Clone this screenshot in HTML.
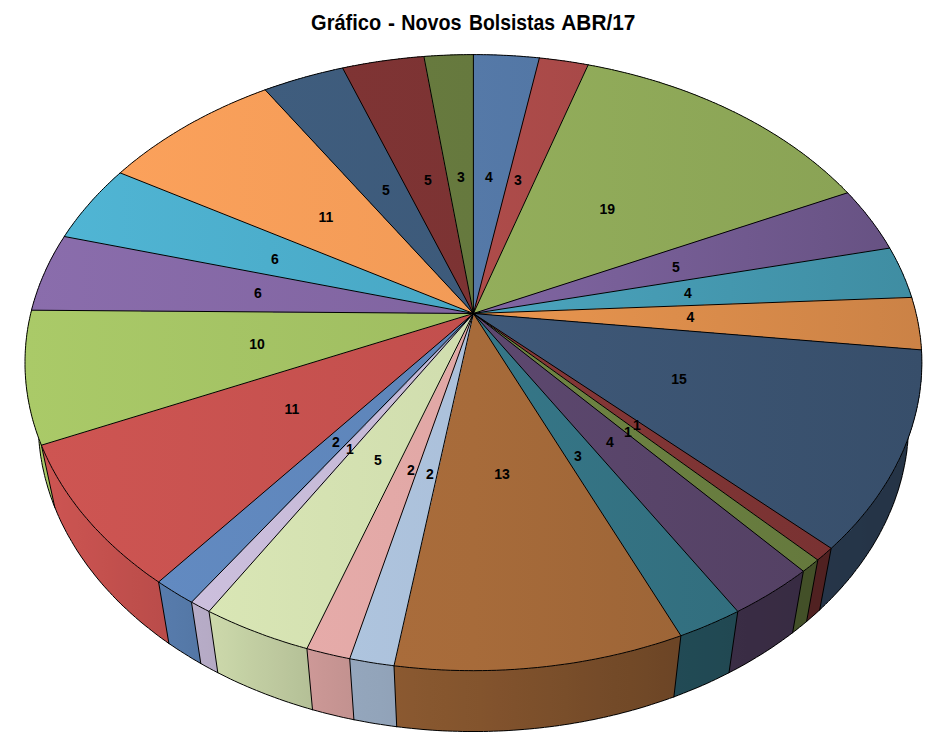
<!DOCTYPE html>
<html><head><meta charset="utf-8"><title>Gráfico</title>
<style>
html,body{margin:0;padding:0;background:#fff;}
body{width:942px;height:742px;overflow:hidden;font-family:"Liberation Sans",sans-serif;}
svg{display:block;}
.s{stroke:#000;stroke-width:1;stroke-linejoin:round;}
.o{shape-rendering:geometricPrecision;stroke:#000;stroke-width:1;fill:none;stroke-linejoin:round;stroke-linecap:round;}
.l{font-family:"Liberation Sans",sans-serif;font-weight:bold;font-size:14px;fill:#000;text-anchor:middle;}
.t{font-family:"Liberation Sans",sans-serif;font-weight:bold;font-size:21.5px;fill:#000;}
</style></head><body>
<svg width="942" height="742" viewBox="0 0 942 742" shape-rendering="crispEdges">
<rect width="942" height="742" fill="#fff"/>
<defs>
<linearGradient id="g0" gradientUnits="userSpaceOnUse" x1="473.4" y1="0" x2="539.4" y2="0"><stop offset="0.0000" stop-color="#5579A8"/><stop offset="1.0000" stop-color="#5377A5"/></linearGradient>
<linearGradient id="g1" gradientUnits="userSpaceOnUse" x1="473.4" y1="0" x2="588.2" y2="0"><stop offset="0.0000" stop-color="#AE4C4A"/><stop offset="1.0000" stop-color="#A84948"/></linearGradient>
<linearGradient id="g2" gradientUnits="userSpaceOnUse" x1="473.4" y1="0" x2="847.5" y2="0"><stop offset="0" stop-color="#93AE5B"/><stop offset="1" stop-color="#8AA355"/></linearGradient>
<linearGradient id="g3" gradientUnits="userSpaceOnUse" x1="473.4" y1="0" x2="889.7" y2="0"><stop offset="0" stop-color="#8166A3"/><stop offset="1" stop-color="#675283"/></linearGradient>
<linearGradient id="g4" gradientUnits="userSpaceOnUse" x1="473.4" y1="0" x2="911.7" y2="0"><stop offset="0" stop-color="#4BA5BF"/><stop offset="1" stop-color="#3F8DA2"/></linearGradient>
<linearGradient id="g5" gradientUnits="userSpaceOnUse" x1="473.4" y1="0" x2="921.5" y2="0"><stop offset="0" stop-color="#EA964F"/><stop offset="1" stop-color="#CB8246"/></linearGradient>
<linearGradient id="g6" gradientUnits="userSpaceOnUse" x1="473.4" y1="0" x2="921.9" y2="0"><stop offset="0" stop-color="#3F5979"/><stop offset="1" stop-color="#374E6A"/></linearGradient>
<linearGradient id="g7" gradientUnits="userSpaceOnUse" x1="473.4" y1="0" x2="831.2" y2="0"><stop offset="0.0000" stop-color="#873838"/><stop offset="1.0000" stop-color="#793232"/></linearGradient>
<linearGradient id="g8" gradientUnits="userSpaceOnUse" x1="473.4" y1="0" x2="817.8" y2="0"><stop offset="0.0000" stop-color="#708644"/><stop offset="1.0000" stop-color="#65793D"/></linearGradient>
<linearGradient id="g9" gradientUnits="userSpaceOnUse" x1="473.4" y1="0" x2="803.4" y2="0"><stop offset="0.0000" stop-color="#5D486F"/><stop offset="1.0000" stop-color="#544164"/></linearGradient>
<linearGradient id="g10" gradientUnits="userSpaceOnUse" x1="473.4" y1="0" x2="737.8" y2="0"><stop offset="0.0000" stop-color="#367788"/><stop offset="1.0000" stop-color="#326E7E"/></linearGradient>
<linearGradient id="g11" gradientUnits="userSpaceOnUse" x1="394.0" y1="0" x2="680.9" y2="0"><stop offset="0.0000" stop-color="#A96C3B"/><stop offset="0.2767" stop-color="#A76B3A"/><stop offset="1.0000" stop-color="#9D6537"/></linearGradient>
<linearGradient id="g12" gradientUnits="userSpaceOnUse" x1="349.7" y1="0" x2="473.4" y2="0"><stop offset="0.0000" stop-color="#AEC4DE"/><stop offset="1.0000" stop-color="#ABC0DA"/></linearGradient>
<linearGradient id="g13" gradientUnits="userSpaceOnUse" x1="306.9" y1="0" x2="473.4" y2="0"><stop offset="0.0000" stop-color="#E6ABA9"/><stop offset="1.0000" stop-color="#E0A7A5"/></linearGradient>
<linearGradient id="g14" gradientUnits="userSpaceOnUse" x1="209.0" y1="0" x2="473.4" y2="0"><stop offset="0.0000" stop-color="#D9E6B5"/><stop offset="1.0000" stop-color="#D0DDAE"/></linearGradient>
<linearGradient id="g15" gradientUnits="userSpaceOnUse" x1="191.5" y1="0" x2="473.4" y2="0"><stop offset="0.0000" stop-color="#CCBFDD"/><stop offset="1.0000" stop-color="#C3B7D4"/></linearGradient>
<linearGradient id="g16" gradientUnits="userSpaceOnUse" x1="158.6" y1="0" x2="473.4" y2="0"><stop offset="0.0000" stop-color="#628AC1"/><stop offset="1.0000" stop-color="#5D84B8"/></linearGradient>
<linearGradient id="g17" gradientUnits="userSpaceOnUse" x1="41.4" y1="0" x2="473.4" y2="0"><stop offset="0" stop-color="#CE5552"/><stop offset="1" stop-color="#C24F4D"/></linearGradient>
<linearGradient id="g18" gradientUnits="userSpaceOnUse" x1="25.0" y1="0" x2="473.4" y2="0"><stop offset="0" stop-color="#AACA68"/><stop offset="1" stop-color="#9FBD61"/></linearGradient>
<linearGradient id="g19" gradientUnits="userSpaceOnUse" x1="31.5" y1="0" x2="473.4" y2="0"><stop offset="0" stop-color="#8A6DAC"/><stop offset="1" stop-color="#8064A0"/></linearGradient>
<linearGradient id="g20" gradientUnits="userSpaceOnUse" x1="64.3" y1="0" x2="473.4" y2="0"><stop offset="0" stop-color="#50B5D4"/><stop offset="1" stop-color="#48A7C4"/></linearGradient>
<linearGradient id="g21" gradientUnits="userSpaceOnUse" x1="120.2" y1="0" x2="473.4" y2="0"><stop offset="0" stop-color="#FBA15B"/><stop offset="1" stop-color="#F29B57"/></linearGradient>
<linearGradient id="g22" gradientUnits="userSpaceOnUse" x1="265.1" y1="0" x2="473.4" y2="0"><stop offset="0.0000" stop-color="#3F5D7E"/><stop offset="1.0000" stop-color="#3D5A7A"/></linearGradient>
<linearGradient id="g23" gradientUnits="userSpaceOnUse" x1="342.6" y1="0" x2="473.4" y2="0"><stop offset="0.0000" stop-color="#7F3434"/><stop offset="1.0000" stop-color="#7C3333"/></linearGradient>
<linearGradient id="g24" gradientUnits="userSpaceOnUse" x1="423.9" y1="0" x2="473.4" y2="0"><stop offset="0.0000" stop-color="#677A3E"/><stop offset="1.0000" stop-color="#66793E"/></linearGradient>
</defs>
<text class="t" x="311.1" y="30" textLength="70.1" lengthAdjust="spacingAndGlyphs">Gráfico</text>
<text class="t" x="388" y="30" textLength="7.0" lengthAdjust="spacingAndGlyphs">-</text>
<text class="t" x="401.3" y="30" textLength="60.2" lengthAdjust="spacingAndGlyphs">Novos</text>
<text class="t" x="469" y="30" textLength="86.0" lengthAdjust="spacingAndGlyphs">Bolsistas</text>
<text class="t" x="561.3" y="30" textLength="74.1" lengthAdjust="spacingAndGlyphs">ABR/17</text>
<g>
<linearGradient id="w6" gradientUnits="userSpaceOnUse" x1="915.2" y1="0" x2="825.4" y2="0"><stop offset="-0.0000" stop-color="#243346"/><stop offset="0.0056" stop-color="#243346"/><stop offset="0.0168" stop-color="#243446"/><stop offset="0.0337" stop-color="#243446"/><stop offset="0.0564" stop-color="#243446"/><stop offset="0.0849" stop-color="#243446"/><stop offset="0.1193" stop-color="#243446"/><stop offset="0.1597" stop-color="#253446"/><stop offset="0.2060" stop-color="#253446"/><stop offset="0.2584" stop-color="#253447"/><stop offset="0.3168" stop-color="#253447"/><stop offset="0.3812" stop-color="#253447"/><stop offset="0.4517" stop-color="#253447"/><stop offset="0.5282" stop-color="#253447"/><stop offset="0.6107" stop-color="#253548"/><stop offset="0.6992" stop-color="#253548"/><stop offset="0.7936" stop-color="#253548"/><stop offset="0.8939" stop-color="#263548"/><stop offset="1.0000" stop-color="#263549"/></linearGradient>
<polygon fill="url(#w6)" points="921.5,349.9 921.7,353.0 921.8,356.2 921.8,359.3 921.9,362.5 921.8,365.7 921.8,368.8 921.7,372.0 921.5,375.2 921.3,378.4 921.0,381.6 920.7,384.8 920.3,388.0 919.9,391.2 919.5,394.4 919.0,397.6 918.4,400.8 917.8,404.0 917.1,407.2 916.4,410.4 915.7,413.6 914.9,416.8 914.0,420.0 913.1,423.2 912.1,426.4 911.1,429.6 910.1,432.8 908.9,436.0 907.8,439.2 906.6,442.4 905.3,445.6 904.0,448.8 902.6,452.0 901.2,455.1 899.7,458.3 898.2,461.5 896.6,464.6 894.9,467.8 893.3,470.9 891.5,474.0 889.7,477.1 887.9,480.3 886.0,483.4 884.0,486.4 882.0,489.5 880.0,492.6 877.9,495.7 875.7,498.7 873.5,501.7 871.3,504.8 869.0,507.8 866.6,510.8 864.2,513.8 861.7,516.7 859.2,519.7 856.6,522.6 854.0,525.6 851.3,528.5 848.6,531.4 845.8,534.2 843.0,537.1 840.1,539.9 837.2,542.7 834.2,545.5 831.2,548.3 819.7,609.9 822.6,607.2 825.5,604.4 828.3,601.6 831.1,598.8 833.9,595.9 836.6,593.0 839.2,590.2 841.8,587.3 844.4,584.3 846.9,581.4 849.4,578.5 851.8,575.5 854.1,572.5 856.4,569.5 858.7,566.5 860.9,563.5 863.0,560.5 865.1,557.5 867.2,554.4 869.2,551.3 871.2,548.3 873.1,545.2 874.9,542.1 876.7,539.0 878.5,535.9 880.2,532.7 881.8,529.6 883.4,526.5 885.0,523.3 886.5,520.2 887.9,517.0 889.3,513.8 890.7,510.7 892.0,507.5 893.3,504.3 894.5,501.1 895.6,497.9 896.7,494.7 897.8,491.5 898.8,488.3 899.7,485.1 900.6,481.9 901.5,478.7 902.3,475.5 903.0,472.3 903.7,469.1 904.4,465.9 905.0,462.7 905.6,459.5 906.1,456.3 906.6,453.1 907.0,449.9 907.3,446.7 907.7,443.5 907.9,440.3 908.2,437.1 908.4,433.9 908.5,430.7 908.6,427.5 908.6,424.3 908.6,421.2 908.6,418.0 908.5,414.8 908.3,411.7"/>
<linearGradient id="w7" gradientUnits="userSpaceOnUse" x1="825.4" y1="0" x2="812.2" y2="0"><stop offset="-0.0000" stop-color="#502121"/><stop offset="0.4918" stop-color="#502121"/><stop offset="1.0000" stop-color="#502121"/></linearGradient>
<polygon fill="url(#w7)" points="831.2,548.3 827.9,551.3 824.6,554.2 821.2,557.1 817.8,560.0 806.6,621.5 809.9,618.7 813.2,615.8 816.5,612.9 819.7,609.9"/>
<linearGradient id="w8" gradientUnits="userSpaceOnUse" x1="812.2" y1="0" x2="798.0" y2="0"><stop offset="-0.0000" stop-color="#435028"/><stop offset="0.4925" stop-color="#435028"/><stop offset="1.0000" stop-color="#435029"/></linearGradient>
<polygon fill="url(#w8)" points="817.8,560.0 814.2,562.8 810.7,565.6 807.1,568.4 803.4,571.2 792.6,632.7 796.2,630.0 799.7,627.2 803.2,624.4 806.6,621.5"/>
<linearGradient id="w9" gradientUnits="userSpaceOnUse" x1="798.0" y1="0" x2="733.4" y2="0"><stop offset="-0.0000" stop-color="#382B43"/><stop offset="0.1843" stop-color="#382C43"/><stop offset="0.3767" stop-color="#392C43"/><stop offset="0.5770" stop-color="#392C44"/><stop offset="0.7848" stop-color="#392C44"/><stop offset="1.0000" stop-color="#3A2D45"/></linearGradient>
<polygon fill="url(#w9)" points="803.4,571.2 799.9,573.8 796.4,576.3 792.8,578.9 789.1,581.4 785.5,583.9 781.7,586.3 777.9,588.7 774.1,591.1 770.3,593.5 766.4,595.9 762.4,598.2 758.4,600.5 754.4,602.7 750.3,604.9 746.2,607.1 742.0,609.3 737.8,611.4 729.0,672.7 733.1,670.6 737.1,668.5 741.1,666.3 745.1,664.1 749.0,661.8 752.9,659.5 756.7,657.2 760.5,654.9 764.2,652.6 767.9,650.2 771.6,647.8 775.2,645.3 778.8,642.8 782.3,640.4 785.8,637.8 789.3,635.3 792.6,632.7"/>
<linearGradient id="w10" gradientUnits="userSpaceOnUse" x1="733.4" y1="0" x2="677.4" y2="0"><stop offset="-0.0000" stop-color="#214852"/><stop offset="0.2401" stop-color="#214953"/><stop offset="0.4871" stop-color="#214954"/><stop offset="0.7405" stop-color="#214A54"/><stop offset="1.0000" stop-color="#224A55"/></linearGradient>
<polygon fill="url(#w10)" points="737.8,611.4 733.3,613.7 728.7,615.9 724.1,618.0 719.5,620.1 714.8,622.2 710.1,624.3 705.3,626.3 700.5,628.2 695.7,630.2 690.8,632.1 685.9,633.9 680.9,635.7 673.9,696.9 678.7,695.1 683.5,693.2 688.2,691.3 692.9,689.4 697.6,687.5 702.2,685.5 706.8,683.5 711.3,681.4 715.8,679.3 720.2,677.1 724.7,674.9 729.0,672.7"/>
<linearGradient id="w11" gradientUnits="userSpaceOnUse" x1="677.4" y1="0" x2="395.4" y2="0"><stop offset="-0.0000" stop-color="#6C4526"/><stop offset="0.0537" stop-color="#6E4626"/><stop offset="0.1085" stop-color="#704827"/><stop offset="0.1644" stop-color="#724927"/><stop offset="0.2211" stop-color="#734A28"/><stop offset="0.2787" stop-color="#754B29"/><stop offset="0.3371" stop-color="#774C29"/><stop offset="0.3961" stop-color="#794E2A"/><stop offset="0.4557" stop-color="#7B4F2B"/><stop offset="0.5157" stop-color="#7D502B"/><stop offset="0.5761" stop-color="#7F512C"/><stop offset="0.6367" stop-color="#81522D"/><stop offset="0.6975" stop-color="#83542D"/><stop offset="0.7583" stop-color="#84552E"/><stop offset="0.8191" stop-color="#86562E"/><stop offset="0.8797" stop-color="#87572F"/><stop offset="0.9400" stop-color="#895830"/><stop offset="1.0000" stop-color="#8B5930"/></linearGradient>
<polygon fill="url(#w11)" points="680.9,635.7 676.3,637.4 671.6,639.0 666.9,640.5 662.2,642.1 657.4,643.5 652.6,645.0 647.8,646.4 642.9,647.8 638.1,649.1 633.2,650.4 628.3,651.7 623.3,652.9 618.4,654.1 613.4,655.3 608.4,656.4 603.3,657.5 598.3,658.5 593.2,659.5 588.1,660.4 583.0,661.3 577.9,662.2 572.7,663.0 567.6,663.8 562.4,664.5 557.2,665.2 552.0,665.9 546.8,666.5 541.6,667.1 536.4,667.6 531.1,668.1 525.9,668.5 520.6,669.0 515.3,669.3 510.1,669.6 504.8,669.9 499.5,670.1 494.2,670.3 488.9,670.5 483.6,670.6 478.3,670.6 473.0,670.7 467.7,670.6 462.4,670.6 457.1,670.5 451.8,670.3 446.5,670.1 441.3,669.9 436.0,669.6 430.7,669.3 425.4,668.9 420.2,668.5 414.9,668.0 409.7,667.5 404.4,667.0 399.2,666.4 394.0,665.8 396.7,726.7 401.7,727.3 406.8,727.9 411.8,728.4 416.9,728.9 422.0,729.4 427.1,729.8 432.2,730.2 437.3,730.5 442.4,730.8 447.5,731.0 452.6,731.2 457.7,731.3 462.8,731.5 467.9,731.5 473.0,731.5 478.1,731.5 483.3,731.5 488.4,731.4 493.5,731.2 498.6,731.0 503.7,730.8 508.8,730.5 513.9,730.2 519.0,729.8 524.1,729.4 529.2,729.0 534.2,728.5 539.3,728.0 544.3,727.4 549.4,726.8 554.4,726.2 559.4,725.5 564.4,724.7 569.4,724.0 574.3,723.1 579.3,722.3 584.2,721.4 589.1,720.4 594.0,719.5 598.9,718.4 603.8,717.4 608.6,716.3 613.5,715.1 618.3,714.0 623.0,712.7 627.8,711.5 632.5,710.2 637.2,708.9 641.9,707.5 646.6,706.1 651.2,704.6 655.8,703.1 660.4,701.6 664.9,700.1 669.4,698.5 673.9,696.9"/>
<linearGradient id="w12" gradientUnits="userSpaceOnUse" x1="395.4" y1="0" x2="351.8" y2="0"><stop offset="-0.0000" stop-color="#91A2B8"/><stop offset="0.3362" stop-color="#92A4BA"/><stop offset="0.6697" stop-color="#93A5BB"/><stop offset="1.0000" stop-color="#94A6BD"/></linearGradient>
<polygon fill="url(#w12)" points="394.0,665.8 388.4,665.1 382.8,664.3 377.3,663.5 371.7,662.6 366.2,661.7 360.7,660.8 355.2,659.8 349.7,658.7 353.9,719.7 359.2,720.7 364.5,721.7 369.8,722.7 375.2,723.6 380.5,724.4 385.9,725.2 391.3,726.0 396.7,726.7"/>
<linearGradient id="w13" gradientUnits="userSpaceOnUse" x1="351.8" y1="0" x2="309.7" y2="0"><stop offset="-0.0000" stop-color="#C39290"/><stop offset="0.3376" stop-color="#C69492"/><stop offset="0.6711" stop-color="#C99694"/><stop offset="1.0000" stop-color="#CD9897"/></linearGradient>
<polygon fill="url(#w13)" points="349.7,658.7 344.3,657.6 338.9,656.5 333.5,655.3 328.1,654.0 322.8,652.8 317.4,651.4 312.2,650.1 306.9,648.6 312.5,709.7 317.6,711.1 322.7,712.5 327.9,713.8 333.0,715.0 338.2,716.3 343.4,717.5 348.7,718.6 353.9,719.7"/>
<linearGradient id="w14" gradientUnits="userSpaceOnUse" x1="309.7" y1="0" x2="213.4" y2="0"><stop offset="-0.0000" stop-color="#B5C097"/><stop offset="0.1519" stop-color="#B8C49A"/><stop offset="0.3010" stop-color="#BCC79D"/><stop offset="0.4473" stop-color="#BFCBA0"/><stop offset="0.5905" stop-color="#C2CEA2"/><stop offset="0.7305" stop-color="#C5D2A5"/><stop offset="0.8671" stop-color="#C9D5A8"/><stop offset="1.0000" stop-color="#CCD8AA"/></linearGradient>
<polygon fill="url(#w14)" points="306.9,648.6 301.9,647.2 297.0,645.8 292.0,644.3 287.1,642.8 282.3,641.3 277.4,639.7 272.6,638.1 267.8,636.4 263.1,634.7 258.4,632.9 253.7,631.2 249.1,629.3 244.5,627.5 239.9,625.6 235.4,623.7 230.9,621.7 226.5,619.7 222.0,617.7 217.7,615.7 213.3,613.6 209.0,611.4 217.8,672.7 222.0,674.8 226.2,676.9 230.4,679.0 234.7,681.0 239.0,683.0 243.4,684.9 247.7,686.8 252.2,688.7 256.6,690.5 261.1,692.3 265.6,694.1 270.2,695.8 274.8,697.5 279.4,699.2 284.0,700.8 288.7,702.4 293.4,703.9 298.1,705.4 302.9,706.9 307.7,708.3 312.5,709.7"/>
<linearGradient id="w15" gradientUnits="userSpaceOnUse" x1="213.4" y1="0" x2="196.1" y2="0"><stop offset="-0.0000" stop-color="#B5AAC4"/><stop offset="0.5053" stop-color="#B6ABC6"/><stop offset="1.0000" stop-color="#B7ACC7"/></linearGradient>
<polygon fill="url(#w15)" points="209.0,611.4 204.6,609.2 200.2,606.9 195.8,604.5 191.5,602.2 200.8,663.5 205.0,665.9 209.2,668.2 213.5,670.5 217.8,672.7"/>
<linearGradient id="w16" gradientUnits="userSpaceOnUse" x1="196.1" y1="0" x2="163.8" y2="0"><stop offset="-0.0000" stop-color="#5477A6"/><stop offset="0.3440" stop-color="#5579A8"/><stop offset="0.6774" stop-color="#567AAA"/><stop offset="1.0000" stop-color="#577BAC"/></linearGradient>
<polygon fill="url(#w16)" points="191.5,602.2 187.2,599.7 183.0,597.3 178.8,594.8 174.6,592.3 170.6,589.8 166.5,587.2 162.6,584.6 158.6,582.0 168.9,643.5 172.8,646.1 176.6,648.7 180.5,651.2 184.5,653.7 188.5,656.2 192.5,658.7 196.6,661.1 200.8,663.5"/>
<linearGradient id="w17" gradientUnits="userSpaceOnUse" x1="163.8" y1="0" x2="48.0" y2="0"><stop offset="-0.0000" stop-color="#BA4C4A"/><stop offset="0.1022" stop-color="#BC4D4B"/><stop offset="0.2000" stop-color="#BE4E4B"/><stop offset="0.2932" stop-color="#BF4F4C"/><stop offset="0.3818" stop-color="#C14F4D"/><stop offset="0.4656" stop-color="#C3504D"/><stop offset="0.5447" stop-color="#C4514E"/><stop offset="0.6189" stop-color="#C6514F"/><stop offset="0.6882" stop-color="#C7524F"/><stop offset="0.7526" stop-color="#C85350"/><stop offset="0.8120" stop-color="#C95350"/><stop offset="0.8665" stop-color="#CA5351"/><stop offset="0.9160" stop-color="#CB5451"/><stop offset="0.9605" stop-color="#CC5451"/><stop offset="1.0000" stop-color="#CD5552"/></linearGradient>
<polygon fill="url(#w17)" points="158.6,582.0 155.0,579.5 151.4,577.0 147.9,574.5 144.4,571.9 140.9,569.3 137.5,566.7 134.2,564.1 130.9,561.4 127.6,558.7 124.4,556.1 121.3,553.3 118.1,550.6 115.1,547.8 112.1,545.0 109.1,542.2 106.2,539.4 103.3,536.6 100.5,533.7 97.8,530.9 95.1,528.0 92.4,525.1 89.8,522.1 87.2,519.2 84.7,516.2 82.3,513.3 79.9,510.3 77.5,507.3 75.2,504.3 73.0,501.3 70.8,498.2 68.6,495.2 66.5,492.1 64.5,489.1 62.5,486.0 60.6,482.9 58.7,479.8 56.9,476.7 55.1,473.6 53.3,470.4 51.7,467.3 50.0,464.2 48.5,461.0 46.9,457.9 45.5,454.7 44.1,451.5 42.7,448.4 41.4,445.2 54.7,507.1 56.0,510.2 57.3,513.4 58.7,516.6 60.1,519.7 61.6,522.9 63.2,526.0 64.8,529.2 66.4,532.3 68.1,535.4 69.9,538.5 71.7,541.6 73.5,544.7 75.4,547.8 77.3,550.9 79.3,553.9 81.4,557.0 83.5,560.0 85.6,563.0 87.8,566.1 90.1,569.1 92.4,572.0 94.7,575.0 97.1,578.0 99.5,580.9 102.0,583.9 104.6,586.8 107.2,589.7 109.8,592.5 112.5,595.4 115.2,598.3 118.0,601.1 120.8,603.9 123.7,606.7 126.7,609.4 129.6,612.2 132.7,614.9 135.7,617.6 138.8,620.3 142.0,623.0 145.2,625.6 148.5,628.2 151.8,630.8 155.1,633.4 158.5,636.0 161.9,638.5 165.4,641.0 168.9,643.5"/>
<linearGradient id="w18" gradientUnits="userSpaceOnUse" x1="48.0" y1="0" x2="31.7" y2="0"><stop offset="-0.0000" stop-color="#AACA68"/><stop offset="0.2273" stop-color="#AACA68"/><stop offset="0.4249" stop-color="#AACA68"/><stop offset="0.5931" stop-color="#AACA68"/><stop offset="0.7322" stop-color="#AACA68"/><stop offset="0.8423" stop-color="#AACA68"/><stop offset="0.9237" stop-color="#AACA68"/><stop offset="0.9770" stop-color="#AACA68"/><stop offset="1.0022" stop-color="#AACA68"/><stop offset="1.0000" stop-color="#AACA68"/></linearGradient>
<polygon fill="url(#w18)" points="41.4,445.2 40.1,442.0 38.9,438.9 37.8,435.7 36.7,432.5 35.6,429.3 34.6,426.2 33.7,423.0 32.8,419.8 31.9,416.6 31.1,413.4 30.4,410.3 29.7,407.1 29.0,403.9 28.4,400.7 27.9,397.5 27.4,394.3 26.9,391.2 26.5,388.0 26.1,384.8 25.8,381.6 25.6,378.5 25.4,375.3 25.2,372.2 25.1,369.0 25.0,365.8 25.0,362.7 25.0,359.6 25.1,356.4 25.2,353.3 25.3,350.2 25.6,347.0 25.8,343.9 26.1,340.8 26.4,337.7 26.8,334.6 27.3,331.6 27.7,328.5 28.3,325.4 28.8,322.4 29.4,319.3 30.1,316.3 30.8,313.2 31.5,310.2 44.2,372.0 43.5,375.0 42.9,378.0 42.3,381.1 41.7,384.1 41.2,387.2 40.7,390.3 40.2,393.4 39.8,396.4 39.5,399.5 39.2,402.6 38.9,405.8 38.7,408.9 38.5,412.0 38.4,415.1 38.3,418.3 38.2,421.4 38.2,424.6 38.3,427.7 38.4,430.9 38.5,434.0 38.7,437.2 38.9,440.4 39.2,443.5 39.5,446.7 39.9,449.9 40.3,453.1 40.7,456.2 41.3,459.4 41.8,462.6 42.4,465.8 43.1,469.0 43.8,472.1 44.5,475.3 45.3,478.5 46.2,481.7 47.1,484.9 48.0,488.1 49.0,491.2 50.0,494.4 51.1,497.6 52.3,500.7 53.4,503.9 54.7,507.1"/>
</g>
<path class="o" d="M908.3,411.7 L908.5,414.8 L908.6,418.0 L908.6,421.2 L908.6,424.3 L908.6,427.5 L908.5,430.7 L908.4,433.9 L908.2,437.1 L907.9,440.3 L907.7,443.5 L907.3,446.7 L907.0,449.9 L906.6,453.1 L906.1,456.3 L905.6,459.5 L905.0,462.7 L904.4,465.9 L903.7,469.1 L903.0,472.3 L902.3,475.5 L901.5,478.7 L900.6,481.9 L899.7,485.1 L898.8,488.3 L897.8,491.5 L896.7,494.7 L895.6,497.9 L894.5,501.1 L893.3,504.3 L892.0,507.5 L890.7,510.7 L889.3,513.8 L887.9,517.0 L886.5,520.2 L885.0,523.3 L883.4,526.5 L881.8,529.6 L880.2,532.7 L878.5,535.9 L876.7,539.0 L874.9,542.1 L873.1,545.2 L871.2,548.3 L869.2,551.3 L867.2,554.4 L865.1,557.5 L863.0,560.5 L860.9,563.5 L858.7,566.5 L856.4,569.5 L854.1,572.5 L851.8,575.5 L849.4,578.5 L846.9,581.4 L844.4,584.3 L841.8,587.3 L839.2,590.2 L836.6,593.0 L833.9,595.9 L831.1,598.8 L828.3,601.6 L825.5,604.4 L822.6,607.2 L819.7,609.9 M921.5,349.9 L908.3,411.7 M819.7,609.9 L816.5,612.9 L813.2,615.8 L809.9,618.7 L806.6,621.5 M831.2,548.3 L819.7,609.9 M806.6,621.5 L803.2,624.4 L799.7,627.2 L796.2,630.0 L792.6,632.7 M817.8,560.0 L806.6,621.5 M792.6,632.7 L789.3,635.3 L785.8,637.8 L782.3,640.4 L778.8,642.8 L775.2,645.3 L771.6,647.8 L767.9,650.2 L764.2,652.6 L760.5,654.9 L756.7,657.2 L752.9,659.5 L749.0,661.8 L745.1,664.1 L741.1,666.3 L737.1,668.5 L733.1,670.6 L729.0,672.7 M803.4,571.2 L792.6,632.7 M729.0,672.7 L724.7,674.9 L720.2,677.1 L715.8,679.3 L711.3,681.4 L706.8,683.5 L702.2,685.5 L697.6,687.5 L692.9,689.4 L688.2,691.3 L683.5,693.2 L678.7,695.1 L673.9,696.9 M737.8,611.4 L729.0,672.7 M673.9,696.9 L669.4,698.5 L664.9,700.1 L660.4,701.6 L655.8,703.1 L651.2,704.6 L646.6,706.1 L641.9,707.5 L637.2,708.9 L632.5,710.2 L627.8,711.5 L623.0,712.7 L618.3,714.0 L613.5,715.1 L608.6,716.3 L603.8,717.4 L598.9,718.4 L594.0,719.5 L589.1,720.4 L584.2,721.4 L579.3,722.3 L574.3,723.1 L569.4,724.0 L564.4,724.7 L559.4,725.5 L554.4,726.2 L549.4,726.8 L544.3,727.4 L539.3,728.0 L534.2,728.5 L529.2,729.0 L524.1,729.4 L519.0,729.8 L513.9,730.2 L508.8,730.5 L503.7,730.8 L498.6,731.0 L493.5,731.2 L488.4,731.4 L483.3,731.5 L478.1,731.5 L473.0,731.5 L467.9,731.5 L462.8,731.5 L457.7,731.3 L452.6,731.2 L447.5,731.0 L442.4,730.8 L437.3,730.5 L432.2,730.2 L427.1,729.8 L422.0,729.4 L416.9,728.9 L411.8,728.4 L406.8,727.9 L401.7,727.3 L396.7,726.7 M680.9,635.7 L673.9,696.9 M396.7,726.7 L391.3,726.0 L385.9,725.2 L380.5,724.4 L375.2,723.6 L369.8,722.7 L364.5,721.7 L359.2,720.7 L353.9,719.7 M394.0,665.8 L396.7,726.7 M353.9,719.7 L348.7,718.6 L343.4,717.5 L338.2,716.3 L333.0,715.0 L327.9,713.8 L322.7,712.5 L317.6,711.1 L312.5,709.7 M349.7,658.7 L353.9,719.7 M312.5,709.7 L307.7,708.3 L302.9,706.9 L298.1,705.4 L293.4,703.9 L288.7,702.4 L284.0,700.8 L279.4,699.2 L274.8,697.5 L270.2,695.8 L265.6,694.1 L261.1,692.3 L256.6,690.5 L252.2,688.7 L247.7,686.8 L243.4,684.9 L239.0,683.0 L234.7,681.0 L230.4,679.0 L226.2,676.9 L222.0,674.8 L217.8,672.7 M306.9,648.6 L312.5,709.7 M217.8,672.7 L213.5,670.5 L209.2,668.2 L205.0,665.9 L200.8,663.5 M209.0,611.4 L217.8,672.7 M200.8,663.5 L196.6,661.1 L192.5,658.7 L188.5,656.2 L184.5,653.7 L180.5,651.2 L176.6,648.7 L172.8,646.1 L168.9,643.5 M191.5,602.2 L200.8,663.5 M168.9,643.5 L165.4,641.0 L161.9,638.5 L158.5,636.0 L155.1,633.4 L151.8,630.8 L148.5,628.2 L145.2,625.6 L142.0,623.0 L138.8,620.3 L135.7,617.6 L132.7,614.9 L129.6,612.2 L126.7,609.4 L123.7,606.7 L120.8,603.9 L118.0,601.1 L115.2,598.3 L112.5,595.4 L109.8,592.5 L107.2,589.7 L104.6,586.8 L102.0,583.9 L99.5,580.9 L97.1,578.0 L94.7,575.0 L92.4,572.0 L90.1,569.1 L87.8,566.1 L85.6,563.0 L83.5,560.0 L81.4,557.0 L79.3,553.9 L77.3,550.9 L75.4,547.8 L73.5,544.7 L71.7,541.6 L69.9,538.5 L68.1,535.4 L66.4,532.3 L64.8,529.2 L63.2,526.0 L61.6,522.9 L60.1,519.7 L58.7,516.6 L57.3,513.4 L56.0,510.2 L54.7,507.1 M158.6,582.0 L168.9,643.5 M54.7,507.1 L53.4,503.9 L52.3,500.7 L51.1,497.6 L50.0,494.4 L49.0,491.2 L48.0,488.1 L47.1,484.9 L46.2,481.7 L45.3,478.5 L44.5,475.3 L43.8,472.1 L43.1,469.0 L42.4,465.8 L41.8,462.6 L41.3,459.4 L40.7,456.2 L40.3,453.1 L39.9,449.9 L39.5,446.7 L39.2,443.5 L38.9,440.4 L38.7,437.2 L38.5,434.0 L38.4,430.9 L38.3,427.7 L38.2,424.6 L38.2,421.4 L38.3,418.3 L38.4,415.1 L38.5,412.0 L38.7,408.9 L38.9,405.8 L39.2,402.6 L39.5,399.5 L39.8,396.4 L40.2,393.4 L40.7,390.3 L41.2,387.2 L41.7,384.1 L42.3,381.1 L42.9,378.0 L43.5,375.0 L44.2,372.0 M41.4,445.2 L54.7,507.1"/>
<g>
<polygon fill="url(#g0)" stroke="url(#g0)" stroke-width="0.5" points="473.4,313.5 473.4,54.6 477.3,54.6 481.2,54.6 485.1,54.7 489.0,54.8 492.9,54.9 496.8,55.0 500.7,55.1 504.5,55.3 508.4,55.5 512.3,55.7 516.2,56.0 520.1,56.3 523.9,56.5 527.8,56.9 531.7,57.2 535.5,57.5 539.4,57.9"/>
<polygon fill="url(#g1)" stroke="url(#g1)" stroke-width="0.5" points="473.4,313.5 539.4,57.9 543.5,58.4 547.6,58.8 551.7,59.3 555.8,59.8 559.8,60.4 563.9,60.9 568.0,61.5 572.0,62.1 576.1,62.8 580.1,63.4 584.2,64.1 588.2,64.8"/>
<polygon fill="url(#g2)" stroke="url(#g2)" stroke-width="0.5" points="473.4,313.5 588.2,64.8 591.9,65.5 595.6,66.2 599.3,67.0 603.0,67.7 606.7,68.5 610.4,69.3 614.1,70.1 617.8,71.0 621.4,71.8 625.1,72.7 628.7,73.6 632.4,74.6 636.0,75.5 639.6,76.5 643.2,77.5 646.8,78.5 650.4,79.6 654.0,80.6 657.5,81.7 661.1,82.8 664.6,84.0 668.1,85.1 671.6,86.3 675.1,87.5 678.6,88.7 682.1,90.0 685.6,91.2 689.0,92.5 692.4,93.8 695.8,95.1 699.3,96.5 702.6,97.9 706.0,99.3 709.4,100.7 712.7,102.1 716.1,103.6 719.4,105.0 722.7,106.5 725.9,108.1 729.2,109.6 732.5,111.2 735.7,112.7 738.9,114.4 742.1,116.0 745.3,117.6 748.4,119.3 751.6,121.0 754.7,122.7 757.8,124.4 760.9,126.2 763.9,128.0 767.0,129.7 770.0,131.6 773.0,133.4 776.0,135.2 778.9,137.1 781.9,139.0 784.8,140.9 787.7,142.9 790.6,144.8 793.4,146.8 796.2,148.8 799.0,150.8 801.8,152.8 804.6,154.9 807.3,157.0 810.0,159.1 812.7,161.2 815.4,163.3 818.0,165.5 820.6,167.6 823.2,169.8 825.7,172.0 828.3,174.3 830.8,176.5 833.2,178.8 835.7,181.1 838.1,183.4 840.5,185.7 842.9,188.0 845.2,190.4 847.5,192.8"/>
<polygon fill="url(#g3)" stroke="url(#g3)" stroke-width="0.5" points="473.4,313.5 847.5,192.8 849.9,195.2 852.2,197.7 854.5,200.2 856.7,202.7 858.9,205.2 861.1,207.8 863.3,210.4 865.4,212.9 867.5,215.5 869.5,218.2 871.5,220.8 873.5,223.5 875.4,226.1 877.4,228.8 879.2,231.5 881.1,234.3 882.9,237.0 884.7,239.8 886.4,242.5 888.1,245.3 889.7,248.1"/>
<polygon fill="url(#g4)" stroke="url(#g4)" stroke-width="0.5" points="473.4,313.5 889.7,248.1 891.3,250.9 892.9,253.7 894.4,256.5 895.9,259.4 897.4,262.2 898.8,265.1 900.2,267.9 901.5,270.8 902.8,273.7 904.0,276.6 905.3,279.5 906.4,282.5 907.6,285.4 908.7,288.4 909.7,291.4 910.7,294.4 911.7,297.4"/>
<polygon fill="url(#g5)" stroke="url(#g5)" stroke-width="0.5" points="473.4,313.5 911.7,297.4 912.6,300.4 913.5,303.4 914.3,306.4 915.1,309.5 915.9,312.5 916.6,315.6 917.3,318.7 917.9,321.7 918.5,324.8 919.0,327.9 919.5,331.0 919.9,334.2 920.3,337.3 920.7,340.4 921.0,343.6 921.3,346.7 921.5,349.9"/>
<polygon fill="url(#g6)" stroke="url(#g6)" stroke-width="0.5" points="473.4,313.5 921.5,349.9 921.7,353.0 921.8,356.2 921.8,359.3 921.9,362.5 921.8,365.7 921.8,368.8 921.7,372.0 921.5,375.2 921.3,378.4 921.0,381.6 920.7,384.8 920.3,388.0 919.9,391.2 919.5,394.4 919.0,397.6 918.4,400.8 917.8,404.0 917.1,407.2 916.4,410.4 915.7,413.6 914.9,416.8 914.0,420.0 913.1,423.2 912.1,426.4 911.1,429.6 910.1,432.8 908.9,436.0 907.8,439.2 906.6,442.4 905.3,445.6 904.0,448.8 902.6,452.0 901.2,455.1 899.7,458.3 898.2,461.5 896.6,464.6 894.9,467.8 893.3,470.9 891.5,474.0 889.7,477.1 887.9,480.3 886.0,483.4 884.0,486.4 882.0,489.5 880.0,492.6 877.9,495.7 875.7,498.7 873.5,501.7 871.3,504.8 869.0,507.8 866.6,510.8 864.2,513.8 861.7,516.7 859.2,519.7 856.6,522.6 854.0,525.6 851.3,528.5 848.6,531.4 845.8,534.2 843.0,537.1 840.1,539.9 837.2,542.7 834.2,545.5 831.2,548.3"/>
<polygon fill="url(#g7)" stroke="url(#g7)" stroke-width="0.5" points="473.4,313.5 831.2,548.3 827.9,551.3 824.6,554.2 821.2,557.1 817.8,560.0"/>
<polygon fill="url(#g8)" stroke="url(#g8)" stroke-width="0.5" points="473.4,313.5 817.8,560.0 814.2,562.8 810.7,565.6 807.1,568.4 803.4,571.2"/>
<polygon fill="url(#g9)" stroke="url(#g9)" stroke-width="0.5" points="473.4,313.5 803.4,571.2 799.9,573.8 796.4,576.3 792.8,578.9 789.1,581.4 785.5,583.9 781.7,586.3 777.9,588.7 774.1,591.1 770.3,593.5 766.4,595.9 762.4,598.2 758.4,600.5 754.4,602.7 750.3,604.9 746.2,607.1 742.0,609.3 737.8,611.4"/>
<polygon fill="url(#g10)" stroke="url(#g10)" stroke-width="0.5" points="473.4,313.5 737.8,611.4 733.3,613.7 728.7,615.9 724.1,618.0 719.5,620.1 714.8,622.2 710.1,624.3 705.3,626.3 700.5,628.2 695.7,630.2 690.8,632.1 685.9,633.9 680.9,635.7"/>
<polygon fill="url(#g11)" stroke="url(#g11)" stroke-width="0.5" points="473.4,313.5 680.9,635.7 676.3,637.4 671.6,639.0 666.9,640.5 662.2,642.1 657.4,643.5 652.6,645.0 647.8,646.4 642.9,647.8 638.1,649.1 633.2,650.4 628.3,651.7 623.3,652.9 618.4,654.1 613.4,655.3 608.4,656.4 603.3,657.5 598.3,658.5 593.2,659.5 588.1,660.4 583.0,661.3 577.9,662.2 572.7,663.0 567.6,663.8 562.4,664.5 557.2,665.2 552.0,665.9 546.8,666.5 541.6,667.1 536.4,667.6 531.1,668.1 525.9,668.5 520.6,669.0 515.3,669.3 510.1,669.6 504.8,669.9 499.5,670.1 494.2,670.3 488.9,670.5 483.6,670.6 478.3,670.6 473.0,670.7 467.7,670.6 462.4,670.6 457.1,670.5 451.8,670.3 446.5,670.1 441.3,669.9 436.0,669.6 430.7,669.3 425.4,668.9 420.2,668.5 414.9,668.0 409.7,667.5 404.4,667.0 399.2,666.4 394.0,665.8"/>
<polygon fill="url(#g12)" stroke="url(#g12)" stroke-width="0.5" points="473.4,313.5 394.0,665.8 388.4,665.1 382.8,664.3 377.3,663.5 371.7,662.6 366.2,661.7 360.7,660.8 355.2,659.8 349.7,658.7"/>
<polygon fill="url(#g13)" stroke="url(#g13)" stroke-width="0.5" points="473.4,313.5 349.7,658.7 344.3,657.6 338.9,656.5 333.5,655.3 328.1,654.0 322.8,652.8 317.4,651.4 312.2,650.1 306.9,648.6"/>
<polygon fill="url(#g14)" stroke="url(#g14)" stroke-width="0.5" points="473.4,313.5 306.9,648.6 301.9,647.2 297.0,645.8 292.0,644.3 287.1,642.8 282.3,641.3 277.4,639.7 272.6,638.1 267.8,636.4 263.1,634.7 258.4,632.9 253.7,631.2 249.1,629.3 244.5,627.5 239.9,625.6 235.4,623.7 230.9,621.7 226.5,619.7 222.0,617.7 217.7,615.7 213.3,613.6 209.0,611.4"/>
<polygon fill="url(#g15)" stroke="url(#g15)" stroke-width="0.5" points="473.4,313.5 209.0,611.4 204.6,609.2 200.2,606.9 195.8,604.5 191.5,602.2"/>
<polygon fill="url(#g16)" stroke="url(#g16)" stroke-width="0.5" points="473.4,313.5 191.5,602.2 187.2,599.7 183.0,597.3 178.8,594.8 174.6,592.3 170.6,589.8 166.5,587.2 162.6,584.6 158.6,582.0"/>
<polygon fill="url(#g17)" stroke="url(#g17)" stroke-width="0.5" points="473.4,313.5 158.6,582.0 155.0,579.5 151.4,577.0 147.9,574.5 144.4,571.9 140.9,569.3 137.5,566.7 134.2,564.1 130.9,561.4 127.6,558.7 124.4,556.1 121.3,553.3 118.1,550.6 115.1,547.8 112.1,545.0 109.1,542.2 106.2,539.4 103.3,536.6 100.5,533.7 97.8,530.9 95.1,528.0 92.4,525.1 89.8,522.1 87.2,519.2 84.7,516.2 82.3,513.3 79.9,510.3 77.5,507.3 75.2,504.3 73.0,501.3 70.8,498.2 68.6,495.2 66.5,492.1 64.5,489.1 62.5,486.0 60.6,482.9 58.7,479.8 56.9,476.7 55.1,473.6 53.3,470.4 51.7,467.3 50.0,464.2 48.5,461.0 46.9,457.9 45.5,454.7 44.1,451.5 42.7,448.4 41.4,445.2"/>
<polygon fill="url(#g18)" stroke="url(#g18)" stroke-width="0.5" points="473.4,313.5 41.4,445.2 40.1,442.0 38.9,438.9 37.8,435.7 36.7,432.5 35.6,429.3 34.6,426.2 33.7,423.0 32.8,419.8 31.9,416.6 31.1,413.4 30.4,410.3 29.7,407.1 29.0,403.9 28.4,400.7 27.9,397.5 27.4,394.3 26.9,391.2 26.5,388.0 26.1,384.8 25.8,381.6 25.6,378.5 25.4,375.3 25.2,372.2 25.1,369.0 25.0,365.8 25.0,362.7 25.0,359.6 25.1,356.4 25.2,353.3 25.3,350.2 25.6,347.0 25.8,343.9 26.1,340.8 26.4,337.7 26.8,334.6 27.3,331.6 27.7,328.5 28.3,325.4 28.8,322.4 29.4,319.3 30.1,316.3 30.8,313.2 31.5,310.2"/>
<polygon fill="url(#g19)" stroke="url(#g19)" stroke-width="0.5" points="473.4,313.5 31.5,310.2 32.3,307.1 33.2,304.0 34.1,300.9 35.0,297.9 36.0,294.8 37.0,291.8 38.1,288.7 39.2,285.7 40.3,282.7 41.5,279.7 42.8,276.7 44.0,273.7 45.4,270.8 46.7,267.8 48.1,264.9 49.6,262.0 51.1,259.1 52.6,256.2 54.1,253.3 55.7,250.5 57.4,247.6 59.1,244.8 60.8,242.0 62.5,239.2 64.3,236.5"/>
<polygon fill="url(#g20)" stroke="url(#g20)" stroke-width="0.5" points="473.4,313.5 64.3,236.5 66.1,233.7 68.0,230.9 69.9,228.2 71.8,225.5 73.8,222.8 75.8,220.2 77.9,217.5 79.9,214.9 82.0,212.2 84.2,209.6 86.4,207.0 88.6,204.5 90.8,201.9 93.1,199.4 95.4,196.9 97.7,194.4 100.1,191.9 102.5,189.5 104.9,187.0 107.4,184.6 109.9,182.2 112.4,179.9 115.0,177.5 117.6,175.2 120.2,172.9"/>
<polygon fill="url(#g21)" stroke="url(#g21)" stroke-width="0.5" points="473.4,313.5 120.2,172.9 122.7,170.6 125.3,168.4 128.0,166.2 130.6,164.0 133.3,161.9 136.0,159.7 138.7,157.6 141.5,155.5 144.3,153.4 147.1,151.4 149.9,149.3 152.7,147.3 155.6,145.3 158.5,143.3 161.4,141.4 164.4,139.4 167.3,137.5 170.3,135.6 173.3,133.7 176.3,131.9 179.4,130.0 182.5,128.2 185.6,126.4 188.7,124.6 191.8,122.9 194.9,121.2 198.1,119.5 201.3,117.8 204.5,116.1 207.7,114.5 211.0,112.8 214.2,111.2 217.5,109.7 220.8,108.1 224.1,106.6 227.5,105.0 230.8,103.6 234.2,102.1 237.5,100.6 240.9,99.2 244.4,97.8 247.8,96.4 251.2,95.1 254.7,93.7 258.1,92.4 261.6,91.1 265.1,89.8"/>
<polygon fill="url(#g22)" stroke="url(#g22)" stroke-width="0.5" points="473.4,313.5 265.1,89.8 268.7,88.6 272.3,87.3 275.9,86.1 279.5,84.9 283.1,83.7 286.7,82.5 290.4,81.4 294.1,80.3 297.7,79.2 301.4,78.1 305.1,77.1 308.8,76.1 312.5,75.1 316.3,74.1 320.0,73.2 323.8,72.2 327.5,71.3 331.3,70.5 335.1,69.6 338.8,68.8 342.6,68.0"/>
<polygon fill="url(#g23)" stroke="url(#g23)" stroke-width="0.5" points="473.4,313.5 342.6,68.0 346.4,67.2 350.3,66.4 354.1,65.7 357.9,65.0 361.7,64.3 365.6,63.6 369.4,63.0 373.3,62.4 377.1,61.8 381.0,61.2 384.9,60.6 388.8,60.1 392.6,59.6 396.5,59.1 400.4,58.7 404.3,58.3 408.2,57.9 412.1,57.5 416.0,57.1 420.0,56.8 423.9,56.5"/>
<polygon fill="url(#g24)" stroke="url(#g24)" stroke-width="0.5" points="473.4,313.5 423.9,56.5 428.0,56.2 432.1,55.9 436.2,55.6 440.4,55.4 444.5,55.2 448.6,55.1 452.7,54.9 456.9,54.8 461.0,54.7 465.2,54.6 469.3,54.6 473.4,54.6"/>
</g>
<path class="o" d="M473.4,54.6 L476.8,54.6 L480.1,54.6 L483.4,54.7 L486.7,54.7 L490.1,54.8 L493.4,54.9 L496.7,55.0 L500.1,55.1 L503.4,55.3 L506.7,55.4 L510.0,55.6 L513.4,55.8 L516.7,56.0 L520.0,56.2 L523.3,56.5 L526.6,56.8 L529.9,57.0 L533.2,57.3 L536.6,57.6 L539.9,58.0 L543.2,58.3 L546.5,58.7 L549.8,59.1 L553.0,59.5 L556.3,59.9 L559.6,60.3 L562.9,60.8 L566.2,61.2 L569.4,61.7 L572.7,62.2 L576.0,62.7 L579.2,63.3 L582.5,63.8 L585.7,64.4 L589.0,65.0 L592.2,65.6 L595.4,66.2 L598.7,66.8 L601.9,67.5 L605.1,68.2 L608.3,68.8 L611.5,69.5 L614.7,70.3 L617.9,71.0 L621.1,71.8 L624.2,72.5 L627.4,73.3 L630.6,74.1 L633.7,74.9 L636.9,75.8 L640.0,76.6 L643.2,77.5 L646.3,78.4 L649.4,79.3 L652.5,80.2 L655.6,81.1 L658.7,82.1 L661.8,83.1 L664.8,84.1 L667.9,85.1 L671.0,86.1 L674.0,87.1 L677.0,88.2 L680.1,89.2 L683.1,90.3 L686.1,91.4 L689.1,92.5 L692.1,93.7 L695.0,94.8 L698.0,96.0 L700.9,97.2 L703.9,98.4 L706.8,99.6 L709.7,100.8 L712.6,102.1 L715.5,103.3 L718.4,104.6 L721.3,105.9 L724.1,107.2 L727.0,108.6 L729.8,109.9 L732.6,111.3 L735.5,112.6 L738.2,114.0 L741.0,115.4 L743.8,116.9 L746.6,118.3 L749.3,119.8 L752.0,121.2 L754.7,122.7 L757.4,124.2 L760.1,125.7 L762.8,127.3 L765.4,128.8 L768.1,130.4 L770.7,132.0 L773.3,133.6 L775.9,135.2 L778.5,136.8 L781.0,138.5 L783.6,140.1 L786.1,141.8 L788.6,143.5 L791.1,145.2 L793.6,146.9 L796.0,148.6 L798.4,150.4 L800.9,152.1 L803.3,153.9 L805.7,155.7 L808.0,157.5 L810.4,159.4 L812.7,161.2 L815.0,163.0 L817.3,164.9 L819.6,166.8 L821.8,168.7 L824.1,170.6 L826.3,172.5 L828.5,174.5 L830.7,176.4 L832.8,178.4 L835.0,180.4 L837.1,182.4 L839.2,184.4 L841.2,186.4 L843.3,188.4 L845.3,190.5 L847.3,192.5 L849.3,194.6 L851.3,196.7 L853.2,198.8 L855.1,200.9 L857.0,203.1 L858.9,205.2 L860.7,207.4 L862.6,209.5 L864.4,211.7 L866.1,213.9 L867.9,216.1 L869.6,218.3 L871.3,220.6 L873.0,222.8 L874.7,225.1 L876.3,227.3 L877.9,229.6 L879.5,231.9 L881.0,234.2 L882.6,236.5 L884.1,238.9 L885.6,241.2 L887.0,243.5 L888.4,245.9 L889.8,248.3 L891.2,250.7 L892.5,253.1 L893.9,255.5 L895.2,257.9 L896.4,260.3 L897.6,262.8 L898.9,265.2 L900.0,267.7 L901.2,270.1 L902.3,272.6 L903.4,275.1 L904.4,277.6 L905.5,280.1 L906.5,282.6 L907.4,285.1 L908.4,287.7 L909.3,290.2 L910.2,292.8 L911.0,295.3 L911.9,297.9 L912.6,300.5 L913.4,303.1 L914.1,305.6 L914.8,308.2 L915.5,310.9 L916.1,313.5 L916.7,316.1 L917.3,318.7 L917.8,321.4 L918.3,324.0 L918.8,326.7 L919.2,329.3 L919.6,332.0 L920.0,334.7 L920.4,337.3 L920.7,340.0 L920.9,342.7 L921.2,345.4 L921.4,348.1 L921.5,350.8 L921.7,353.5 L921.8,356.2 L921.8,358.9 L921.9,361.6 L921.9,364.4 L921.8,367.1 L921.7,369.8 L921.6,372.6 L921.5,375.3 L921.3,378.0 L921.1,380.8 L920.8,383.5 L920.5,386.3 L920.2,389.0 L919.9,391.8 L919.5,394.5 L919.0,397.3 L918.5,400.0 L918.0,402.8 L917.5,405.5 L916.9,408.3 L916.3,411.1 L915.6,413.8 L914.9,416.6 L914.2,419.3 L913.4,422.1 L912.6,424.8 L911.8,427.6 L910.9,430.3 L910.0,433.1 L909.0,435.8 L908.0,438.6 L907.0,441.3 L905.9,444.0 L904.8,446.8 L903.7,449.5 L902.5,452.2 L901.2,455.0 L900.0,457.7 L898.7,460.4 L897.3,463.1 L896.0,465.8 L894.5,468.5 L893.1,471.2 L891.6,473.9 L890.0,476.6 L888.5,479.3 L886.9,481.9 L885.2,484.6 L883.5,487.2 L881.8,489.9 L880.0,492.5 L878.2,495.2 L876.4,497.8 L874.5,500.4 L872.6,503.0 L870.6,505.6 L868.6,508.2 L866.6,510.8 L864.5,513.3 L862.4,515.9 L860.3,518.4 L858.1,521.0 L855.9,523.5 L853.6,526.0 L851.3,528.5 L849.0,531.0 L846.6,533.4 L844.2,535.9 L841.7,538.4 L839.2,540.8 L836.7,543.2 L834.2,545.6 L831.6,548.0 L828.9,550.4 L826.3,552.7 L823.6,555.1 L820.8,557.4 L818.0,559.7 L815.2,562.0 L812.4,564.3 L809.5,566.6 L806.6,568.8 L803.6,571.1 L800.6,573.3 L797.6,575.5 L794.5,577.6 L791.5,579.8 L788.3,581.9 L785.2,584.1 L782.0,586.2 L778.8,588.2 L775.5,590.3 L772.2,592.3 L768.9,594.4 L765.5,596.4 L762.1,598.3 L758.7,600.3 L755.3,602.2 L751.8,604.1 L748.3,606.0 L744.7,607.9 L741.2,609.7 L737.6,611.6 L733.9,613.4 L730.3,615.1 L726.6,616.9 L722.9,618.6 L719.1,620.3 L715.3,622.0 L711.5,623.6 L707.7,625.3 L703.9,626.9 L700.0,628.5 L696.1,630.0 L692.1,631.5 L688.2,633.0 L684.2,634.5 L680.2,636.0 L676.2,637.4 L672.1,638.8 L668.1,640.1 L664.0,641.5 L659.8,642.8 L655.7,644.1 L651.5,645.3 L647.4,646.5 L643.2,647.7 L638.9,648.9 L634.7,650.1 L630.4,651.2 L626.2,652.2 L621.9,653.3 L617.6,654.3 L613.2,655.3 L608.9,656.3 L604.5,657.2 L600.1,658.1 L595.7,659.0 L591.3,659.8 L586.9,660.6 L582.5,661.4 L578.0,662.2 L573.6,662.9 L569.1,663.6 L564.6,664.2 L560.1,664.8 L555.6,665.4 L551.1,666.0 L546.6,666.5 L542.1,667.0 L537.5,667.5 L533.0,667.9 L528.4,668.3 L523.9,668.7 L519.3,669.0 L514.7,669.4 L510.1,669.6 L505.6,669.9 L501.0,670.1 L496.4,670.3 L491.8,670.4 L487.2,670.5 L482.6,670.6 L478.0,670.6 L473.4,670.7 L468.8,670.6 L464.2,670.6 L459.6,670.5 L455.0,670.4 L450.5,670.3 L445.9,670.1 L441.3,669.9 L436.7,669.6 L432.1,669.4 L427.5,669.0 L423.0,668.7 L418.4,668.3 L413.9,667.9 L409.3,667.5 L404.8,667.0 L400.3,666.5 L395.7,666.0 L391.2,665.4 L386.7,664.8 L382.2,664.2 L377.7,663.6 L373.3,662.9 L368.8,662.2 L364.4,661.4 L359.9,660.6 L355.5,659.8 L351.1,659.0 L346.7,658.1 L342.3,657.2 L338.0,656.3 L333.6,655.3 L329.3,654.3 L325.0,653.3 L320.7,652.2 L316.4,651.2 L312.2,650.1 L307.9,648.9 L303.7,647.7 L299.5,646.5 L295.3,645.3 L291.1,644.1 L287.0,642.8 L282.9,641.5 L278.8,640.1 L274.7,638.8 L270.7,637.4 L266.6,636.0 L262.6,634.5 L258.7,633.0 L254.7,631.5 L250.8,630.0 L246.9,628.5 L243.0,626.9 L239.1,625.3 L235.3,623.6 L231.5,622.0 L227.7,620.3 L224.0,618.6 L220.3,616.9 L216.6,615.1 L212.9,613.4 L209.3,611.6 L205.7,609.7 L202.1,607.9 L198.6,606.0 L195.1,604.1 L191.6,602.2 L188.1,600.3 L184.7,598.3 L181.3,596.4 L178.0,594.4 L174.6,592.3 L171.4,590.3 L168.1,588.2 L164.9,586.2 L161.7,584.1 L158.5,581.9 L155.4,579.8 L152.3,577.6 L149.2,575.5 L146.2,573.3 L143.2,571.1 L140.3,568.8 L137.4,566.6 L134.5,564.3 L131.6,562.0 L128.8,559.7 L126.0,557.4 L123.3,555.1 L120.6,552.7 L117.9,550.4 L115.3,548.0 L112.7,545.6 L110.1,543.2 L107.6,540.8 L105.1,538.4 L102.7,535.9 L100.3,533.4 L97.9,531.0 L95.5,528.5 L93.2,526.0 L91.0,523.5 L88.8,521.0 L86.6,518.4 L84.4,515.9 L82.3,513.3 L80.2,510.8 L78.2,508.2 L76.2,505.6 L74.3,503.0 L72.3,500.4 L70.5,497.8 L68.6,495.2 L66.8,492.5 L65.0,489.9 L63.3,487.2 L61.6,484.6 L60.0,481.9 L58.4,479.3 L56.8,476.6 L55.3,473.9 L53.8,471.2 L52.3,468.5 L50.9,465.8 L49.5,463.1 L48.2,460.4 L46.9,457.7 L45.6,455.0 L44.4,452.2 L43.2,449.5 L42.0,446.8 L40.9,444.0 L39.9,441.3 L38.8,438.6 L37.8,435.8 L36.9,433.1 L35.9,430.3 L35.1,427.6 L34.2,424.8 L33.4,422.1 L32.6,419.3 L31.9,416.6 L31.2,413.8 L30.6,411.1 L29.9,408.3 L29.4,405.5 L28.8,402.8 L28.3,400.0 L27.8,397.3 L27.4,394.5 L27.0,391.8 L26.6,389.0 L26.3,386.3 L26.0,383.5 L25.8,380.8 L25.5,378.0 L25.4,375.3 L25.2,372.6 L25.1,369.8 L25.0,367.1 L25.0,364.4 L25.0,361.6 L25.0,358.9 L25.1,356.2 L25.2,353.5 L25.3,350.8 L25.5,348.1 L25.7,345.4 L25.9,342.7 L26.2,340.0 L26.5,337.3 L26.8,334.7 L27.2,332.0 L27.6,329.3 L28.0,326.7 L28.5,324.0 L29.0,321.4 L29.6,318.7 L30.1,316.1 L30.7,313.5 L31.4,310.9 L32.0,308.2 L32.7,305.6 L33.4,303.1 L34.2,300.5 L35.0,297.9 L35.8,295.3 L36.7,292.8 L37.5,290.2 L38.5,287.7 L39.4,285.1 L40.4,282.6 L41.4,280.1 L42.4,277.6 L43.5,275.1 L44.6,272.6 L45.7,270.1 L46.8,267.7 L48.0,265.2 L49.2,262.8 L50.4,260.3 L51.7,257.9 L53.0,255.5 L54.3,253.1 L55.6,250.7 L57.0,248.3 L58.4,245.9 L59.8,243.5 L61.3,241.2 L62.8,238.9 L64.3,236.5 L65.8,234.2 L67.4,231.9 L68.9,229.6 L70.5,227.3 L72.2,225.1 L73.8,222.8 L75.5,220.6 L77.2,218.3 L78.9,216.1 L80.7,213.9 L82.5,211.7 L84.3,209.5 L86.1,207.4 L88.0,205.2 L89.8,203.1 L91.7,200.9 L93.6,198.8 L95.6,196.7 L97.5,194.6 L99.5,192.5 L101.5,190.5 L103.6,188.4 L105.6,186.4 L107.7,184.4 L109.8,182.4 L111.9,180.4 L114.0,178.4 L116.2,176.4 L118.4,174.5 L120.6,172.5 L122.8,170.6 L125.0,168.7 L127.3,166.8 L129.5,164.9 L131.8,163.0 L134.1,161.2 L136.5,159.4 L138.8,157.5 L141.2,155.7 L143.6,153.9 L146.0,152.1 L148.4,150.4 L150.8,148.6 L153.3,146.9 L155.8,145.2 L158.3,143.5 L160.8,141.8 L163.3,140.1 L165.8,138.5 L168.4,136.8 L171.0,135.2 L173.6,133.6 L176.2,132.0 L178.8,130.4 L181.4,128.8 L184.1,127.3 L186.7,125.7 L189.4,124.2 L192.1,122.7 L194.8,121.2 L197.6,119.8 L200.3,118.3 L203.0,116.9 L205.8,115.4 L208.6,114.0 L211.4,112.6 L214.2,111.3 L217.0,109.9 L219.9,108.6 L222.7,107.2 L225.6,105.9 L228.4,104.6 L231.3,103.3 L234.2,102.1 L237.1,100.8 L240.0,99.6 L243.0,98.4 L245.9,97.2 L248.8,96.0 L251.8,94.8 L254.8,93.7 L257.8,92.5 L260.8,91.4 L263.8,90.3 L266.8,89.2 L269.8,88.2 L272.8,87.1 L275.9,86.1 L278.9,85.1 L282.0,84.1 L285.1,83.1 L288.2,82.1 L291.2,81.1 L294.3,80.2 L297.5,79.3 L300.6,78.4 L303.7,77.5 L306.8,76.6 L310.0,75.8 L313.1,74.9 L316.3,74.1 L319.4,73.3 L322.6,72.5 L325.8,71.8 L329.0,71.0 L332.1,70.3 L335.3,69.5 L338.5,68.8 L341.8,68.2 L345.0,67.5 L348.2,66.8 L351.4,66.2 L354.6,65.6 L357.9,65.0 L361.1,64.4 L364.4,63.8 L367.6,63.3 L370.9,62.7 L374.1,62.2 L377.4,61.7 L380.7,61.2 L384.0,60.8 L387.2,60.3 L390.5,59.9 L393.8,59.5 L397.1,59.1 L400.4,58.7 L403.7,58.3 L407.0,58.0 L410.3,57.6 L413.6,57.3 L416.9,57.0 L420.2,56.8 L423.5,56.5 L426.8,56.2 L430.2,56.0 L433.5,55.8 L436.8,55.6 L440.1,55.4 L443.5,55.3 L446.8,55.1 L450.1,55.0 L453.4,54.9 L456.8,54.8 L460.1,54.7 L463.4,54.7 L466.8,54.6 L470.1,54.6 L473.4,54.6Z M473.4,313.5 L473.4,54.6 M473.4,313.5 L539.4,57.9 M473.4,313.5 L588.2,64.8 M473.4,313.5 L847.5,192.8 M473.4,313.5 L889.7,248.1 M473.4,313.5 L911.7,297.4 M473.4,313.5 L921.5,349.9 M473.4,313.5 L831.2,548.3 M473.4,313.5 L817.8,560.0 M473.4,313.5 L803.4,571.2 M473.4,313.5 L737.8,611.4 M473.4,313.5 L680.9,635.7 M473.4,313.5 L394.0,665.8 M473.4,313.5 L349.7,658.7 M473.4,313.5 L306.9,648.6 M473.4,313.5 L209.0,611.4 M473.4,313.5 L191.5,602.2 M473.4,313.5 L158.6,582.0 M473.4,313.5 L41.4,445.2 M473.4,313.5 L31.5,310.2 M473.4,313.5 L64.3,236.5 M473.4,313.5 L120.2,172.9 M473.4,313.5 L265.1,89.8 M473.4,313.5 L342.6,68.0 M473.4,313.5 L423.9,56.5"/>
<g>
</g>
<g class="l">
<text x="489" y="181.6">4</text>
<text x="518" y="184.6">3</text>
<text x="607.2" y="213.7">19</text>
<text x="676" y="271.6">5</text>
<text x="688" y="297.6">4</text>
<text x="690.4" y="321.8">4</text>
<text x="679" y="383.6">15</text>
<text x="637" y="429.6">1</text>
<text x="628" y="436.6">1</text>
<text x="610" y="446.6">4</text>
<text x="577.8" y="460.6">3</text>
<text x="502" y="478.6">13</text>
<text x="430" y="478.6">2</text>
<text x="411" y="474.6">2</text>
<text x="378" y="464.6">5</text>
<text x="350" y="453.6">1</text>
<text x="336" y="446.6">2</text>
<text x="292" y="413.6">11</text>
<text x="257" y="348.6">10</text>
<text x="258" y="297.6">6</text>
<text x="275" y="263.6">6</text>
<text x="326" y="221.6">11</text>
<text x="386" y="194.6">5</text>
<text x="428" y="184.6">5</text>
<text x="461" y="181.6">3</text>
</g>
</svg>
</body></html>
